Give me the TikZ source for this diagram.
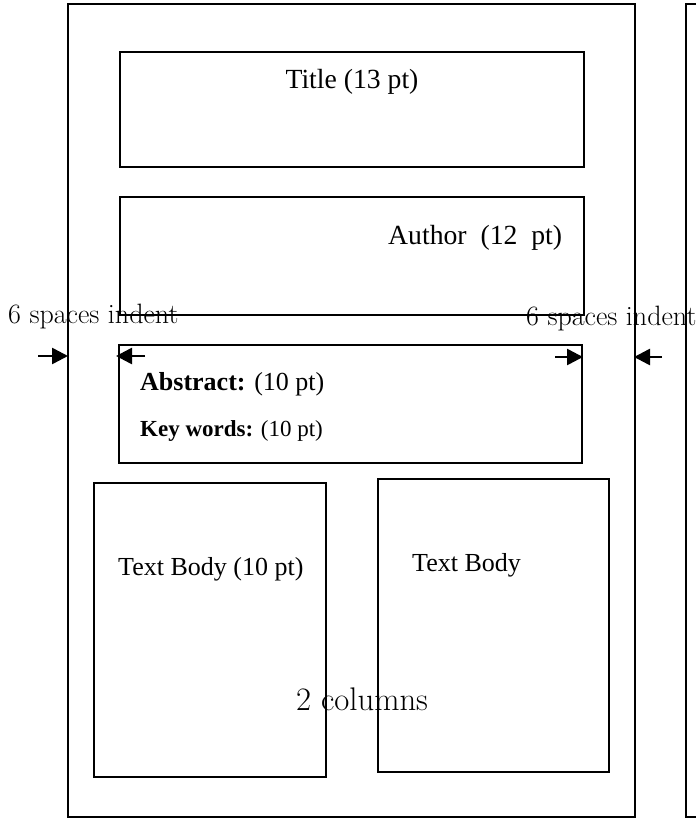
\documentclass[tikz,border=0pt]{standalone}
\usepackage{fontspec}
\usetikzlibrary{arrows.meta}
\newfontfamily\tnr{Liberation Serif}
\begin{document}
\begin{tikzpicture}[x=1pt,y=-1pt,
  box/.style={draw=black,line width=1.7pt},
  tlab/.style={inner sep=0pt,font=\tnr\fontsize{26}{30}\selectfont},
  lmlab/.style={inner sep=0pt,font=\fontsize{28}{32}\selectfont},
  arr/.style={-{Triangle[length=16pt,width=16pt]},line width=2.6pt}]
\useasboundingbox (0,0) rectangle (696,819);
% page frames
\draw[box] (68,4) rectangle (635,817);
\draw[box] (696,4) -- (686,4) -- (686,817) -- (696,817);
% boxes
\draw[box] (120,52) rectangle (584,167);
\draw[box] (120,197) rectangle (584,315);
\draw[box] (119,345) rectangle (582,463);
\draw[box] (94,483) rectangle (326,777);
\draw[box] (378,479) rectangle (609,772);
% texts
\node[tlab,font=\tnr\fontsize{27.7}{32}\selectfont] (title) at (352,82) {Title (13 pt)};
\node[tlab,anchor=west,font=\tnr\fontsize{27.7}{32}\selectfont] (author) at (388,238) {Author\ \ (12\ \ pt)};
\node[tlab,anchor=west] (abs) at (140,384) {\bfseries Abstract:\mdseries{} (10 pt)};
\node[tlab,anchor=west,font=\tnr\fontsize{23}{28}\selectfont] (kw) at (140,431) {\bfseries Key words:\mdseries{} (10 pt)};
\node[tlab,anchor=west] (tb1) at (118,569) {Text Body (10 pt)};
\node[tlab,anchor=west] (tb2) at (412,565) {Text Body};
\node[lmlab,anchor=west,font=\fontsize{32.7}{36}\selectfont] (cols) at (296,699) {2 columns};
\node[lmlab,anchor=west] (ind1) at (8,317) {6 spaces indent};
\node[lmlab,anchor=west] (ind2) at (526,319) {6 spaces indent};
% arrows
\coordinate (a1s) at (38,356); \coordinate (a1e) at (68,356);
\coordinate (a2s) at (145,356); \coordinate (a2e) at (116,356);
\coordinate (a3s) at (555,357); \coordinate (a3e) at (583,357);
\coordinate (a4s) at (662,357); \coordinate (a4e) at (634,357);
\draw[arr] (a1s) -- (a1e);
\draw[arr] (a2s) -- (a2e);
\draw[arr] (a3s) -- (a3e);
\draw[arr] (a4s) -- (a4e);
\end{tikzpicture}
\end{document}
